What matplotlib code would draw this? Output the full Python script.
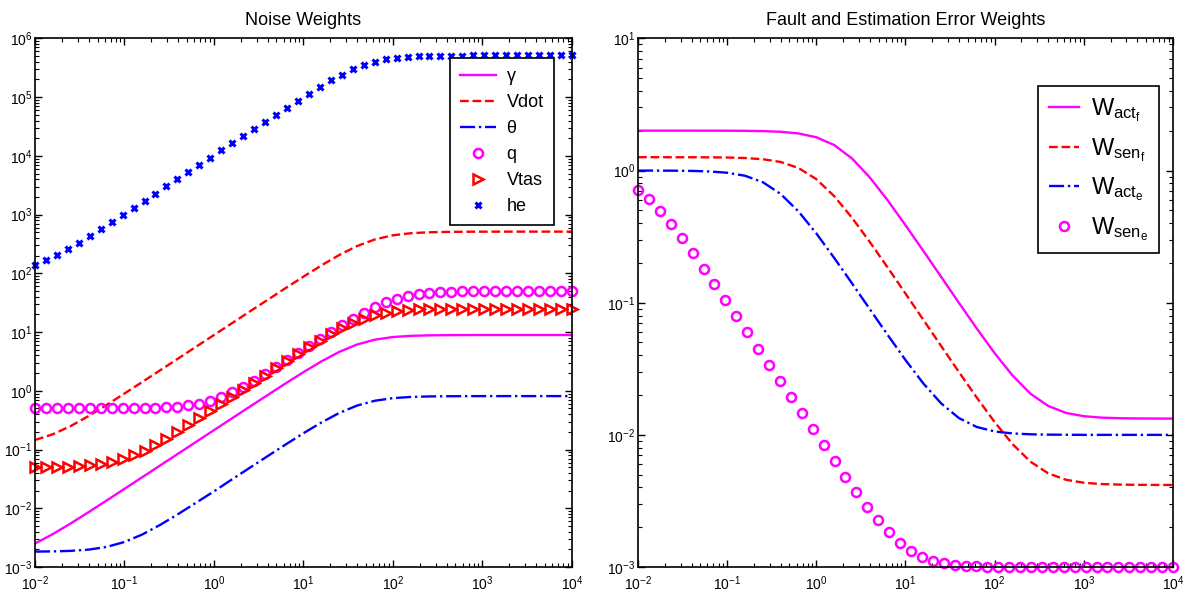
import numpy as np
import matplotlib
matplotlib.use("Agg")
import matplotlib.pyplot as plt
from matplotlib.ticker import LogLocator, NullFormatter

plt.rcParams['font.family'] = ['Liberation Sans Narrow', 'Liberation Sans', 'DejaVu Sans']
plt.rcParams['mathtext.fontset'] = 'custom'
plt.rcParams['mathtext.rm'] = 'Liberation Sans'
plt.rcParams['mathtext.it'] = 'Liberation Sans'

# frequency grids (rad/s): markers use 50 points, lines 31 points, both 1e-2 .. 1e4
w_mark = np.logspace(-2, 4, 50)
w_line = np.logspace(-2, 4, 31)

# ---- Noise weights ----
gamma = [0.00251, 0.00364, 0.00553, 0.00861, 0.01355, 0.02143, 0.0339, 0.0537, 0.0851, 0.1349,
         0.2138, 0.3386, 0.536, 0.847, 1.334, 2.078, 3.166, 4.600, 6.155, 7.435,
         8.232, 8.62, 8.79, 8.865, 8.89, 8.91, 8.91, 8.91, 8.91, 8.91, 8.91]
vdot = [0.1453, 0.182, 0.2516, 0.3728, 0.5739, 0.8986, 1.417, 2.241, 3.548, 5.623,
        8.91, 14.11, 22.37, 35.39, 55.9, 87.8, 136.2, 205.3, 291.7, 378.8,
        444.5, 482, 499.7, 507.5, 510.6, 512, 513, 513, 513, 513, 513]
theta = [0.00183, 0.001846, 0.001885, 0.001978, 0.002197, 0.002668, 0.003585, 0.005225, 0.007972, 0.01243,
         0.01941, 0.03094, 0.04891, 0.07727, 0.1216, 0.1896, 0.2887, 0.4196, 0.5613, 0.678,
         0.7506, 0.786, 0.8017, 0.8083, 0.811, 0.813, 0.813, 0.813, 0.813, 0.813, 0.813]
q = [0.5012, 0.5012, 0.5013, 0.5013, 0.5014, 0.5016, 0.5019, 0.5025, 0.5035, 0.5052,
     0.5081, 0.5134, 0.5225, 0.5376, 0.5628, 0.6072, 0.678, 0.7855, 0.9456, 1.177,
     1.496, 1.934, 2.527, 3.314, 4.364, 5.753, 7.58, 9.952, 12.99, 16.80,
     21.35, 26.57, 31.97, 37.06, 41.30, 44.57, 46.70, 48.05, 48.92, 49.43,
     49.72, 49.89, 49.99, 50.05, 50.07, 50.1, 50.1, 50.1, 50.1, 50.1]
vtas = [0.05036, 0.05053, 0.05086, 0.0514, 0.05236, 0.05397, 0.05675, 0.06125, 0.06857, 0.07965,
        0.09618, 0.1198, 0.1528, 0.1978, 0.2586, 0.3401, 0.4487, 0.5932, 0.7849, 1.039,
        1.376, 1.822, 2.41, 3.183, 4.195, 5.502, 7.165, 9.22, 11.64, 14.31,
        16.98, 19.43, 21.37, 22.77, 23.69, 24.28, 24.63, 24.84, 24.96, 25.03,
        25.07, 25.10, 25.12, 25.12, 25.12, 25.12, 25.12, 25.12, 25.12, 25.12]
he = [140.6, 166.4, 204.1, 257.2, 330.5, 430.0, 563.8, 742.6, 981, 1298,
      1719, 2277, 3017, 3998, 5300, 7025, 9314, 12343, 16364, 21686,
      28730, 38040, 50330, 66480, 87560, 114800, 149400, 191950, 241960, 296800,
      351400, 400400, 438900, 466700, 485000, 496400, 503300, 507400, 509700, 511100,
      511800, 512300, 512600, 512900, 512900, 512900, 512900, 512900, 512900, 512900]

# ---- Fault and estimation error weights ----
w_act_f = [2.004, 2.004, 2.004, 2.004, 2.003, 2.002, 1.998, 1.988, 1.965, 1.909,
           1.786, 1.560, 1.235, 0.8865, 0.5953, 0.3861, 0.2468, 0.1568, 0.09963, 0.06376,
           0.0415, 0.02816, 0.02053, 0.01656, 0.01466, 0.01384, 0.0135, 0.01337, 0.01331, 0.01329, 0.01327]
w_sen_f = [1.262, 1.262, 1.261, 1.261, 1.259, 1.255, 1.244, 1.218, 1.161, 1.045,
           0.8607, 0.6403, 0.4395, 0.288, 0.1846, 0.1173, 0.0743, 0.04704, 0.02987, 0.01912,
           0.0125, 0.008522, 0.006279, 0.005119, 0.004574, 0.004341, 0.004244, 0.004205, 0.004188, 0.004181, 0.004178]
w_act_e = [0.9995, 0.999, 0.9975, 0.9938, 0.9845, 0.9625, 0.9134, 0.8163, 0.6654, 0.4901,
           0.3344, 0.2184, 0.1402, 0.08932, 0.05705, 0.03684, 0.0245, 0.0173, 0.01339, 0.01147,
           0.01061, 0.01025, 0.0101, 0.01004, 0.01002, 0.01, 0.01, 0.01, 0.01, 0.01, 0.01]
w_sen_e = [0.7143, 0.6064, 0.4970, 0.3959, 0.3087, 0.2373, 0.1813, 0.1377, 0.1042, 0.07882,
           0.05953, 0.04495, 0.03393, 0.02561, 0.01933, 0.0146, 0.01103, 0.008347, 0.006328, 0.004819,
           0.003694, 0.002862, 0.002258, 0.001825, 0.001526, 0.001325, 0.001196, 0.001115, 0.001067, 0.001039,
           0.001022, 0.001013, 0.001007, 0.001004, 0.001002, 0.001001, 0.001, 0.001, 0.001, 0.001,
           0.001, 0.001, 0.001, 0.001, 0.001, 0.001, 0.001, 0.001, 0.001, 0.001]

MAG = '#ff00ff'
RED = '#ff0000'
BLU = '#0000ff'


def style_axes(ax, ylo, yhi):
    ax.set_xscale('log')
    ax.set_yscale('log')
    ax.set_xlim(1e-2, 1e4)
    ax.set_ylim(ylo, yhi)
    ax.xaxis.set_major_locator(LogLocator(base=10, numticks=20))
    ax.yaxis.set_major_locator(LogLocator(base=10, numticks=20))
    ax.xaxis.set_minor_locator(LogLocator(base=10, subs=np.arange(2, 10), numticks=100))
    ax.yaxis.set_minor_locator(LogLocator(base=10, subs=np.arange(2, 10), numticks=100))
    ax.xaxis.set_minor_formatter(NullFormatter())
    ax.yaxis.set_minor_formatter(NullFormatter())
    ax.tick_params(which='both', direction='in', top=True, right=True, labelsize=10)
    ax.tick_params(which='major', length=5, width=1)
    ax.tick_params(which='minor', length=3, width=0.8)
    ax.tick_params(axis='x', pad=5)
    ax.tick_params(axis='y', pad=2)
    for s in ax.spines.values():
        s.set_linewidth(1.2)


fig = plt.figure(figsize=(11.93, 5.98), dpi=100)
ax1 = fig.add_axes([0.0293, 0.0518, 0.4501, 0.884])
ax2 = fig.add_axes([0.5348, 0.0518, 0.4484, 0.884])

# left panel
ax1.plot(w_line, gamma, '-', color=MAG, lw=1.7, label='γ')
ax1.plot(w_line, vdot, '--', color=RED, lw=1.7, label='Vdot')
ax1.plot(w_line, theta, '-.', color=BLU, lw=1.7, label='θ')
ax1.plot(w_mark, q, 'o', color=MAG, mfc='none', mec=MAG, ms=6.5, mew=1.8, clip_on=False, label='q')
ax1.plot(w_mark, vtas, '>', color=RED, mfc='none', mec=RED, ms=7, mew=1.8, clip_on=False, label='Vtas')
ax1.plot(w_mark, he, 'x', color=BLU, ms=5, mew=2.2, clip_on=False, label='he')
style_axes(ax1, 1e-3, 1e6)
ax1.set_title('Noise Weights', fontsize=13, pad=10)
leg1 = ax1.legend(loc='upper right', bbox_to_anchor=(0.966, 0.963), borderaxespad=0,
                  fontsize=13, fancybox=False, edgecolor='black', framealpha=1,
                  handlelength=2.0, handletextpad=0.6, labelspacing=0.5, borderpad=0.55)
leg1.get_frame().set_linewidth(1.2)

# right panel
ax2.plot(w_line, w_act_f, '-', color=MAG, lw=1.7, label=r'$\mathrm{W_{act_f}}$')
ax2.plot(w_line, w_sen_f, '--', color=RED, lw=1.7, label=r'$\mathrm{W_{sen_f}}$')
ax2.plot(w_line, w_act_e, '-.', color=BLU, lw=1.7, label=r'$\mathrm{W_{act_e}}$')
ax2.plot(w_mark, w_sen_e, 'o', color=MAG, mfc='none', mec=MAG, ms=6.5, mew=1.8, clip_on=False,
         label=r'$\mathrm{W_{sen_e}}$')
style_axes(ax2, 1e-3, 1e1)
ax2.set_title('Fault and Estimation Error Weights', fontsize=13, pad=10)
leg2 = ax2.legend(loc='upper right', bbox_to_anchor=(0.974, 0.910), borderaxespad=0,
                  fontsize=17, fancybox=False, edgecolor='black', framealpha=1,
                  handlelength=1.3, handletextpad=0.5, labelspacing=0.5, borderpad=0.45)
leg2.get_frame().set_linewidth(1.2)

fig.savefig('out.png', dpi=100, facecolor='white')
